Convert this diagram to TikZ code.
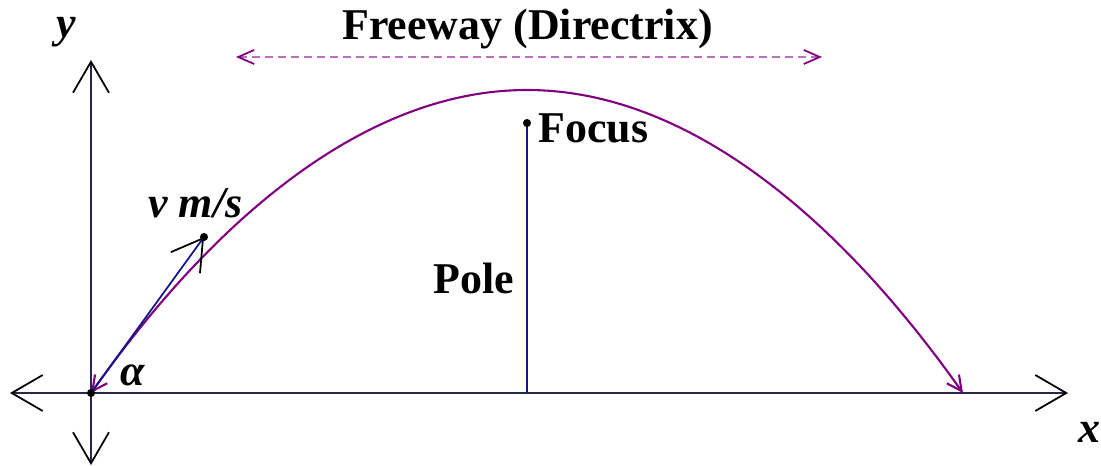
\documentclass[tikz,border=0pt]{standalone}
\usepackage{fontspec}
\setmainfont{Liberation Serif}
\usepackage{tikz}
\usetikzlibrary{arrows.meta}

\definecolor{axisnavy}{RGB}{40,40,75}
\definecolor{vecblue}{RGB}{20,20,140}
\definecolor{pathpurple}{RGB}{128,0,128}
\definecolor{roadpurple}{RGB}{190,110,190}

\tikzset{
    axis/.style={draw=axisnavy,line width=1.1pt,
        {Straight Barb[length=6.2mm,width=7.2mm,line width=1pt,black]}-{Straight Barb[length=6.2mm,width=7.2mm,line width=1pt,black]}},
    vel/.style={draw=vecblue,line width=1pt,
        -{Straight Barb[length=6mm,width=7.2mm,line width=1pt,black]}},
    curve/.style={draw=pathpurple,line width=1.2pt,
        {Straight Barb[length=3mm,width=3mm]}-{Straight Barb[length=3mm,width=3mm]}},
    road/.style={draw=roadpurple,line width=1pt,dash pattern=on 1.6mm off 1mm,
        {Straight Barb[length=3.2mm,width=2.8mm,pathpurple]}-{Straight Barb[length=3.2mm,width=2.8mm,pathpurple]}},
    pole/.style={draw=vecblue,line width=1pt},
    txt/.style={font=\fontsize{25}{29}\selectfont\bfseries,inner sep=0pt,anchor=base west},
    slant/.style={txt,font=\fontsize{25}{29}\selectfont\bfseries\itshape}
}

\begin{document}
\begin{tikzpicture}[x=0.02cm,y=-0.02cm]
    \useasboundingbox (0,0) rectangle (1101,466);
    % points
    \coordinate (O) at (91,393);
    \coordinate (xneg) at (10,393);
    \coordinate (xpos) at (1068,393);
    \coordinate (ypos) at (91,60);
    \coordinate (yneg) at (91,465);
    \coordinate (top) at (527,90);
    \coordinate (land) at (963,393);
    \coordinate (F) at (527,123);
    \coordinate (base) at (527,393);
    \coordinate (v) at (204,237);
    \coordinate (dl) at (236,57);
    \coordinate (dr) at (822,57);

    \draw[axis] (xneg) -- (xpos);
    \draw[axis] (yneg) -- (ypos);
    \draw[road] (dl) -- (dr);
    \draw[curve] (O) parabola bend (top) (land);
    \draw[pole] (base) -- (F);
    \draw[vel] (O) -- (v);
    \fill (O) circle [radius=2.3pt];
    \fill (F) circle [radius=2.3pt];
    \fill (v) circle [radius=2.3pt];

    \node[txt] (freeway) at (342,40) {Freeway (Directrix)};
    \node[txt] (focus) at (538,142) {Focus};
    \node[txt] (pole) at (433,293) {Pole};
    \node[slant] (speed) at (148,217) {v m/s};
    \node[slant] (alpha) at (120,385) {α};
    \node[slant] (ylab) at (56,38) {y};
    \node[slant] (xlab) at (1078,442) {x};
\end{tikzpicture}
\end{document}
